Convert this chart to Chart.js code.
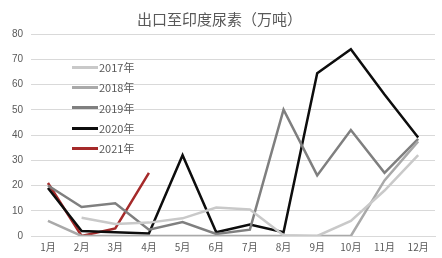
<!DOCTYPE html>
<html><head><meta charset="utf-8">
<script src="https://cdn.jsdelivr.net/npm/chart.js@4"></script>
<style>
html,body{margin:0;padding:0;background:#fff;}
#wrap{position:relative;width:442px;height:258px;}
#legend{position:absolute;left:72px;top:57px;font-family:"Noto Sans CJK SC","Liberation Sans",sans-serif;font-size:11px;color:#595959;}
#legend div{height:20.3px;display:flex;align-items:center;}
#legend span.l{display:inline-block;width:26px;height:3px;margin-right:1px;}
</style></head>
<body><div id="wrap"><canvas id="c" width="442" height="258"></canvas><div id="legend"></div></div>
<script>
const categories = ["1月","2月","3月","4月","5月","6月","7月","8月","9月","10月","11月","12月"];
const seriesNames = ["2017年","2018年","2019年","2020年","2021年"];
const s2017 = [null, 7.2, 4.8, 5.3, 7, 11.3, 10.5, 0.3, 0, 6, 18, 32];
const s2018 = [6, 0, 0, 0, 0, 0, 0, 0, 0, 0, 22, 37.5];
const s2019 = [20, 11.5, 13, 2.5, 5.5, 0.8, 2.5, 50, 24, 42, 25, 38.5];
const s2020 = [19, 2, 1.5, 1, 32, 1.5, 4.5, 1.5, 64.5, 74, 56, 39];
const s2021 = [21, 0, 3, 25];
const yTicks = [0,10,20,30,40,50,60,70,80];
const colors = ["#c9c9c9","#a9a9a9","#7f7f7f","#0d0d0d","#a52a2a"];
const allSeries = [s2017, s2018, s2019, s2020, s2021];

const datasets = allSeries.map((d,i)=>({
  label: seriesNames[i], data: d, borderColor: colors[i], backgroundColor: colors[i],
  borderWidth: 2.5, pointRadius: 0, tension: 0, spanGaps: false
}));

const leg = document.getElementById('legend');
seriesNames.forEach((n,i)=>{
  const d=document.createElement('div');
  d.innerHTML='<span class="l" style="background:'+colors[i]+'"></span>'+n;
  leg.appendChild(d);
});

new Chart(document.getElementById('c'), {
  type: 'line',
  data: { labels: categories, datasets },
  options: {
    responsive: false, animation: false,
    layout: { padding: { left: 4, right: 7, top: 0, bottom: 0 } },
    plugins: {
      legend: { display: false },
      tooltip: { enabled: false },
      title: { display: true, text: '出口至印度尿素（万吨）', color: '#595959',
        font: { family: '"Noto Sans CJK SC"', size: 15, weight: 'normal' }, padding: { top: 10, bottom: 6 } }
    },
    scales: {
      x: { offset: true, grid: { display: false, drawTicks: false }, border: { color: '#d9d9d9' },
        ticks: { color: '#595959', font: { family: '"Noto Sans CJK SC"', size: 10 }, padding: 5, maxRotation: 0 } },
      y: { min: 0, max: 80, afterBuildTicks: ax => { ax.ticks = yTicks.map(v=>({value:v})); },
        grid: { color: '#d9d9d9', drawTicks: false }, border: { display: false },
        ticks: { color: '#595959', font: { family: '"Liberation Sans"', size: 10 }, padding: 8 } }
    }
  }
});
</script></body></html>
